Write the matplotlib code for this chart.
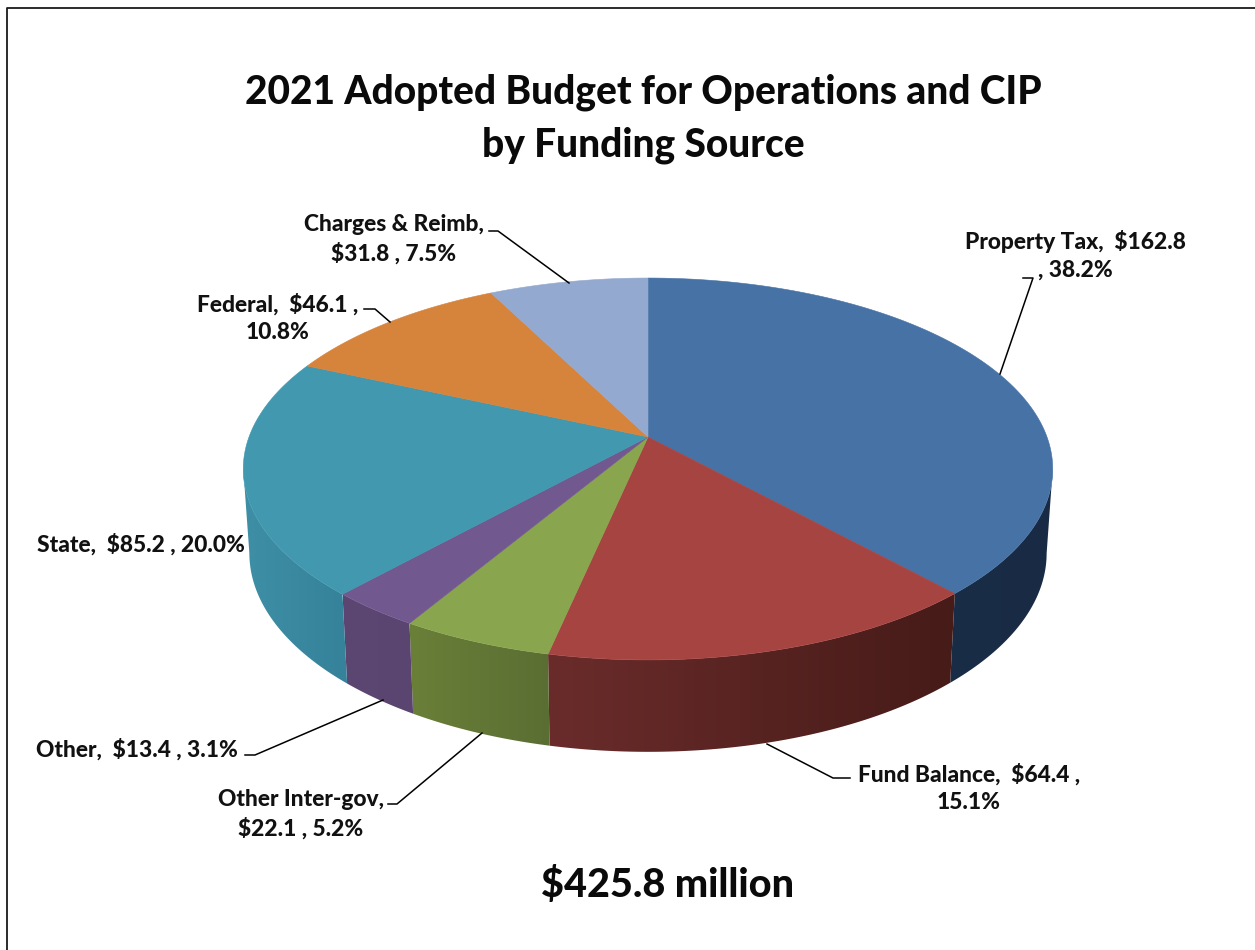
import numpy as np
from matplotlib import pyplot as plt
from matplotlib.colors import to_rgb
from matplotlib.patches import Polygon

plt.rcParams["font.family"] = ["Lato", "DejaVu Sans"]

sources = ["Property Tax", "Fund Balance", "Other Inter-gov", "Other", "State", "Federal", "Charges & Reimb"]
values = [162.8, 64.4, 22.1, 13.4, 85.2, 46.1, 31.8]

labels = [
    "Property Tax,  $162.8\n, 38.2%",
    "Fund Balance,  $64.4 ,\n15.1%",
    "Other Inter-gov,\n$22.1 , 5.2%",
    "Other,  $13.4 , 3.1%",
    "State,  $85.2 , 20.0%",
    "Federal,  $46.1 ,\n10.8%",
    "Charges & Reimb,\n$31.8 , 7.5%",
]

top_colors = ["#4672A6", "#A64442", "#89A54E", "#71588F", "#4198AF", "#D6833C", "#93A9CF"]
# wall shading, left end to right end as seen on the picture
wall_left = ["#1A2D46", "#6A2C2B", "#6A7F38", "#5C4672", "#3E8FA6", "#000000", "#000000"]
wall_right = ["#192B44", "#461B18", "#5A6E33", "#5A4470", "#35829A", "#000000", "#000000"]

# pixel positions of the label centres
label_pos = [(1075, 255), (969, 788), (301, 814), (137, 749), (141, 544), (278, 318), (394, 239)]
leaders = [
    [(1023, 278), (1033, 278), (1000, 374)],
    [(767, 744), (833, 778), (850, 778)],
    [(388, 804), (397, 804), (482, 733)],
    [(245, 755), (255, 755), (383, 700)],
    None,
    [(364, 309), (375, 309), (390, 322)],
    [(489, 231), (498, 231), (569, 283)],
]

# perspective of the disc
cx = 648
k = 0.1675
top_rim = (399, 437, 185.6)
low_rim = (393, 520, 193)


def project(t, rim):
    rx, yc, ry = rim
    u, v = np.sin(t), -np.cos(t)
    w = 1 - k * v
    return cx + rx * u / w, yc + ry * v / w


fig = plt.figure(figsize=(12.55, 9.5), dpi=100)
ax = fig.add_axes([0, 0, 1, 1])
ax.axis("off")

# only the left and top edge of the chart frame are in the picture
ax.plot([7, 7, 1255], [950, 7.5, 7.5], color="#1a1a1a", lw=1.3)

edges = np.concatenate([[0], np.cumsum(values)]) / sum(values) * 2 * np.pi
t_right = np.arccos(-k)
t_left = 2 * np.pi - t_right

for i in range(len(values)):
    a, b = max(edges[i], t_right), min(edges[i + 1], t_left)
    if b <= a:
        continue
    ts = np.linspace(a, b, 120)
    x0, y0 = project(ts, top_rim)
    x1, y1 = project(ts[::-1], low_rim)
    xs, ys = np.r_[x0, x1], np.r_[y0, y1]
    c0, c1 = np.array(to_rgb(wall_left[i])), np.array(to_rgb(wall_right[i]))
    grad = (c0 + (c1 - c0) * np.linspace(0, 1, 256)[:, None])[None, :, :]
    poly = Polygon(np.c_[xs, ys], closed=True, facecolor="none", edgecolor="none", transform=ax.transData)
    ax.add_patch(poly)
    im = ax.imshow(grad, extent=[xs.min(), xs.max(), ys.max(), ys.min()], aspect="auto", interpolation="bilinear")
    im.set_clip_path(poly)

for i in range(len(values)):
    ts = np.linspace(edges[i], edges[i + 1], 200)
    x, y = project(ts, top_rim)
    ax.fill(np.r_[cx, x], np.r_[top_rim[1], y], color=top_colors[i], lw=0.4)

for lab, pos in zip(labels, label_pos):
    ax.text(pos[0], pos[1], lab, ha="center", va="center", fontsize=16.4, fontweight="black",
            color="#111111", linespacing=1.4)

for pts in leaders:
    if pts is not None:
        ax.plot([p[0] for p in pts], [p[1] for p in pts], color="black", lw=1.1)

ax.text(643, 119, "2021 Adopted Budget for Operations and CIP\nby Funding Source", ha="center", va="center",
        fontsize=28, fontweight="black", color="#0a0a0a", linespacing=1.52)
ax.text(668, 885, "$425.8 million", ha="center", va="center", fontsize=28.5, fontweight="black", color="#0a0a0a")

ax.set_xlim(0, 1255)
ax.set_ylim(950, 0)

fig.savefig("out.png", dpi=100)
